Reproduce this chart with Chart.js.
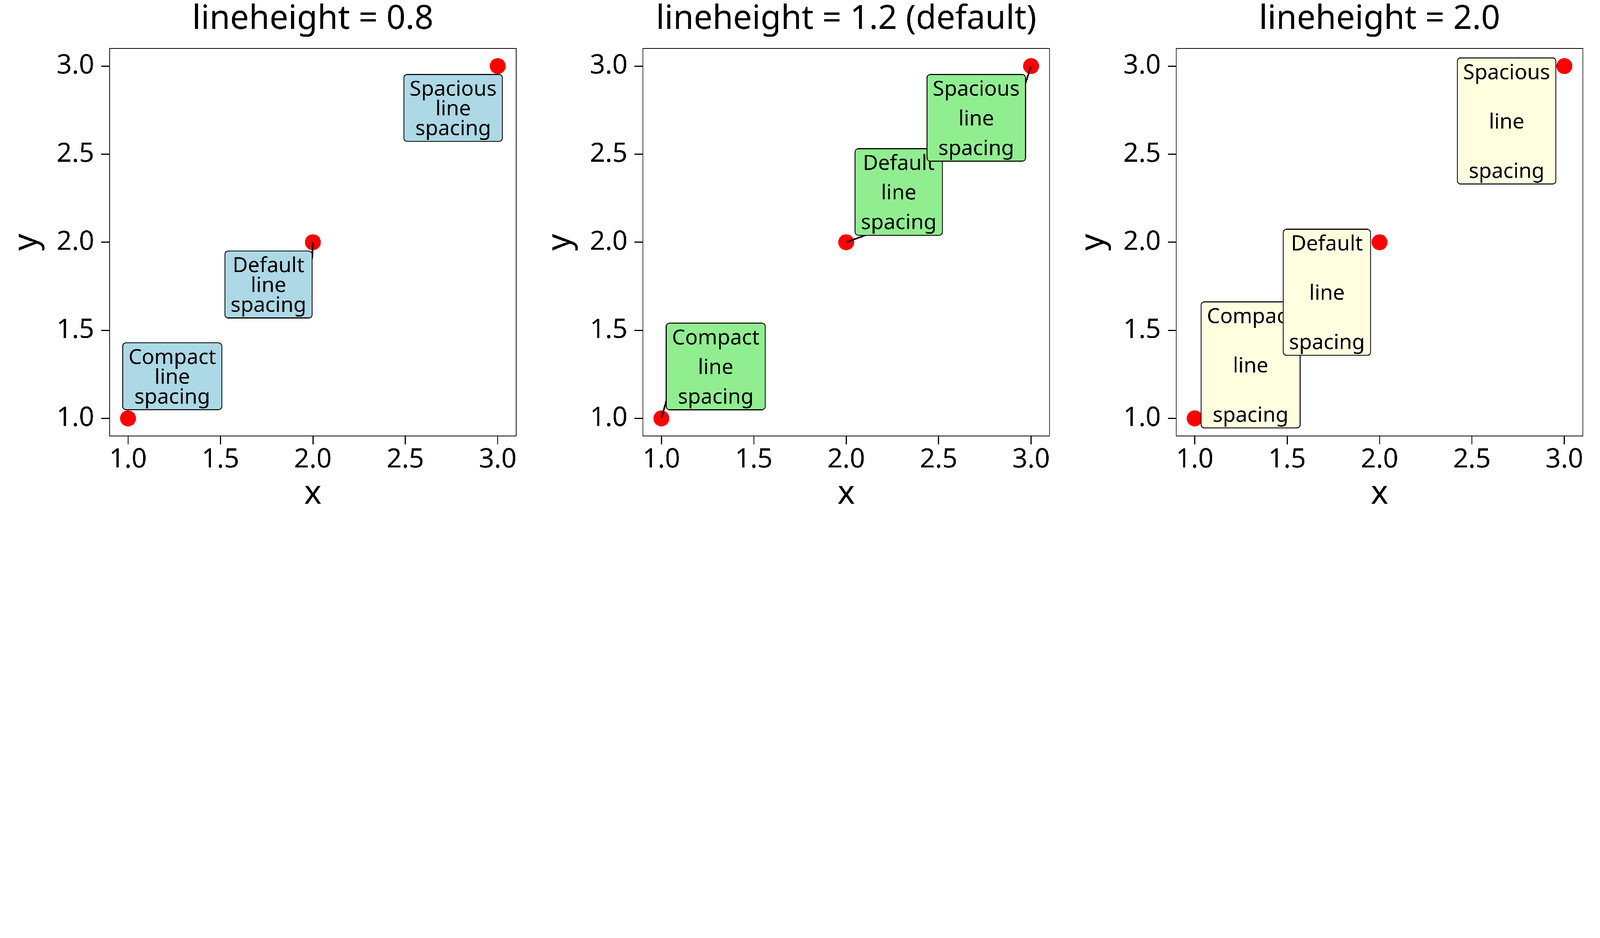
<!DOCTYPE html>
<html>
<head>
<meta charset="utf-8">
<script src="https://cdn.jsdelivr.net/npm/chart.js@4.4.1/dist/chart.umd.min.js"></script>
<style>
  html, body { margin: 0; padding: 0; background: #ffffff; overflow: hidden; }
  #outer { position: relative; overflow: hidden; background: #ffffff; }
  #wrap { position: absolute; left: 0; top: 0; width: 7200px; height: 2400px; background: #ffffff; transform-origin: 0 0; }
  .panel { position: absolute; top: 0; width: 2400px; height: 2400px; }
  canvas { display: block; }
</style>
</head>
<body>
<div id="outer">
<div id="wrap">
  <div class="panel" style="left:0px"><canvas id="c0" width="2400" height="2400"></canvas></div>
  <div class="panel" style="left:2400px"><canvas id="c1" width="2400" height="2400"></canvas></div>
  <div class="panel" style="left:4800px"><canvas id="c2" width="2400" height="2400"></canvas></div>
</div>
</div>
<script>
// ---------------- data ----------------
const xValues = [1, 2, 3];
const yValues = [1, 2, 3];
const labelLines = [
  ['Compact', 'line', 'spacing'],
  ['Default', 'line', 'spacing'],
  ['Spacious', 'line', 'spacing']
];
const panelTitles = ['lineheight = 0.8', 'lineheight = 1.2 (default)', 'lineheight = 2.0'];
const lineHeights = [0.8, 1.2, 2.0];
const xTickValues = [1.0, 1.5, 2.0, 2.5, 3.0];
const yTickValues = [1.0, 1.5, 2.0, 2.5, 3.0];
const xTickLabels = ['1.0', '1.5', '2.0', '2.5', '3.0'];
const yTickLabels = ['1.0', '1.5', '2.0', '2.5', '3.0'];
const axisMin = 0.9;
const axisMax = 3.1;
const xAxisTitle = 'x';
const yAxisTitle = 'y';

// ---------------- fit the 7200x2400 figure into the window ----------------
(function fit() {
  const s = Math.min(window.innerWidth / 7200, window.innerHeight / 2400) || 1;
  const outer = document.getElementById('outer');
  outer.style.width = (7200 * s) + 'px';
  outer.style.height = (2400 * s) + 'px';
  document.getElementById('wrap').style.transform = 'scale(' + s + ')';
})();

// ---------------- style ----------------
const FONT = '"Noto Sans", "Open Sans", sans-serif';
const boxFills = ['#ADD8E6', '#90EE90', '#FFFFE0'];
// label box centre offsets from their point, in pixels (repel layout)
const labelOffsets = [
  [[199, -189.5], [-199.8, 190.1], [-200.7, 188.3]],
  [[244.5, -233.5], [236.2, -225.9], [-246.7, 232.8]],
  [[251.5, -240.5], [-236.8, 225.1], [-260.2, 246.8]]
];
// connector segments (null = none): end on box edge, inset from nearest corner
const labelSegments = [
  [null, {axis: 'y', inset: 32}, null],
  [{axis: 'y', inset: 39}, {axis: 'x', inset: 46}, {axis: 'y', inset: 39}],
  [null, null, null]
];

const labelPlugin = {
  id: 'labelBoxes',
  beforeDatasetsDraw(chart, args, opts) {
    const {ctx, chartArea: a} = chart;
    ctx.save();
    ctx.strokeStyle = '#000000';
    ctx.lineWidth = opts.frameWidth;
    ctx.strokeRect(a.left, a.top, a.right - a.left, a.bottom - a.top);
    ctx.restore();
  },
  afterDatasetsDraw(chart, args, opts) {
    const ctx = chart.ctx;
    const xs = chart.scales.x, ys = chart.scales.y;
    const p = opts.panel;
    ctx.save();
    ctx.font = opts.fontSize + 'px ' + FONT;
    const spacing = lineHeights[p] * opts.spacingUnit;
    const boxes = labelLines.map((lines, i) => {
      const px = xs.getPixelForValue(xValues[i]);
      const py = ys.getPixelForValue(yValues[i]);
      const w = Math.max(...lines.map(l => ctx.measureText(l).width)) + 2 * opts.padX;
      const h = opts.firstBaseline + (lines.length - 1) * spacing + opts.bottomPad;
      const off = labelOffsets[p][i];
      const cx = px + off[0], cy = py + off[1];
      return {px, py, left: cx - w / 2, top: cy - h / 2, w, h, cx, lines};
    });
    // segments
    boxes.forEach((b, i) => {
      const seg = labelSegments[p][i];
      if (!seg) return;
      const right = b.left + b.w, bottom = b.top + b.h;
      let ex = Math.abs(b.px - b.left) < Math.abs(b.px - right) ? b.left : right;
      let ey = Math.abs(b.py - b.top) < Math.abs(b.py - bottom) ? b.top : bottom;
      if (seg.axis === 'y') ey += (ey === b.top ? 1 : -1) * seg.inset;
      else ex += (ex === b.left ? 1 : -1) * seg.inset;
      const dx = ex - b.px, dy = ey - b.py, len = Math.hypot(dx, dy);
      const sx = b.px + dx / len * opts.segTrim, sy = b.py + dy / len * opts.segTrim;
      ctx.beginPath();
      ctx.moveTo(sx, sy);
      ctx.lineTo(ex, ey);
      ctx.strokeStyle = '#000000';
      ctx.lineWidth = opts.segWidth;
      ctx.lineCap = 'round';
      ctx.stroke();
    });
    // boxes and text
    boxes.forEach(b => {
      const r = opts.radius;
      const x0 = b.left, y0 = b.top, x1 = b.left + b.w, y1 = b.top + b.h;
      ctx.beginPath();
      ctx.moveTo(x0 + r, y0);
      ctx.lineTo(x1 - r, y0);
      ctx.arcTo(x1, y0, x1, y0 + r, r);
      ctx.lineTo(x1, y1 - r);
      ctx.arcTo(x1, y1, x1 - r, y1, r);
      ctx.lineTo(x0 + r, y1);
      ctx.arcTo(x0, y1, x0, y1 - r, r);
      ctx.lineTo(x0, y0 + r);
      ctx.arcTo(x0, y0, x0 + r, y0, r);
      ctx.closePath();
      ctx.fillStyle = boxFills[p];
      ctx.fill();
      ctx.lineWidth = opts.borderWidth;
      ctx.strokeStyle = '#000000';
      ctx.stroke();
      ctx.fillStyle = '#000000';
      ctx.textAlign = 'center';
      ctx.textBaseline = 'alphabetic';
      b.lines.forEach((line, k) => {
        ctx.fillText(line, b.cx, y0 + opts.firstBaseline + k * spacing);
      });
    });
    ctx.restore();
  }
};

function makeChart(p) {
  const canvas = document.getElementById('c' + p);
  return new Chart(canvas, {
    type: 'scatter',
    data: {
      datasets: [{
        data: xValues.map((x, i) => ({x: x, y: yValues[i]})),
        pointRadius: 36,
        pointHoverRadius: 36,
        pointBackgroundColor: '#FF0000',
        pointBorderWidth: 0,
        showLine: false,
        clip: false
      }]
    },
    options: {
      responsive: false,
      devicePixelRatio: 1,
      animation: false,
      events: [],
      layout: {padding: {left: 0, right: 77, top: 0, bottom: 0}},
      plugins: {
        legend: {display: false},
        tooltip: {enabled: false},
        title: {
          display: true,
          text: panelTitles[p],
          fullSize: false,
          color: '#000000',
          font: {family: FONT, size: 150, weight: 'normal', lineHeight: 1.17},
          padding: {top: 0, bottom: 42.5}
        },
        labelBoxes: {
          panel: p,
          fontSize: 94,
          spacingUnit: 111,
          padX: 26,
          firstBaseline: 95,
          bottomPad: 28,
          radius: 15,
          borderWidth: 4,
          segWidth: 7,
          segTrim: 6,
          frameWidth: 3
        }
      },
      scales: {
        x: {
          type: 'linear',
          min: axisMin,
          max: axisMax,
          afterBuildTicks: s => { s.ticks = xTickValues.map(v => ({value: v})); },
          afterFit: s => { s.height = 439; },
          border: {display: false},
          grid: {display: true, drawOnChartArea: false, drawTicks: true, tickLength: 38, tickWidth: 5, tickColor: '#000000'},
          ticks: {
            callback: (v, i) => xTickLabels[i],
            color: '#000000',
            font: {family: FONT, size: 120, lineHeight: 1.17},
            padding: 0,
            maxRotation: 0,
            autoSkip: false
          },
          title: {
            display: true,
            text: xAxisTitle,
            color: '#000000',
            font: {family: FONT, size: 148, lineHeight: 1.2},
            padding: {top: 0, bottom: 88}
          }
        },
        y: {
          type: 'linear',
          min: axisMin,
          max: axisMax,
          afterBuildTicks: s => { s.ticks = yTickValues.map(v => ({value: v})); },
          afterFit: s => { s.width = 493; },
          border: {display: false},
          grid: {display: true, drawOnChartArea: false, drawTicks: true, tickLength: 38, tickWidth: 5, tickColor: '#000000'},
          ticks: {
            callback: (v, i) => yTickLabels[i],
            color: '#000000',
            font: {family: FONT, size: 120, lineHeight: 1.17},
            padding: 31,
            autoSkip: false
          },
          title: {
            display: true,
            text: yAxisTitle,
            color: '#000000',
            font: {family: FONT, size: 148, lineHeight: 1.2},
            padding: {top: 33, bottom: 0}
          }
        }
      }
    },
    plugins: [labelPlugin]
  });
}

[0, 1, 2].forEach(makeChart);
</script>
</body>
</html>
